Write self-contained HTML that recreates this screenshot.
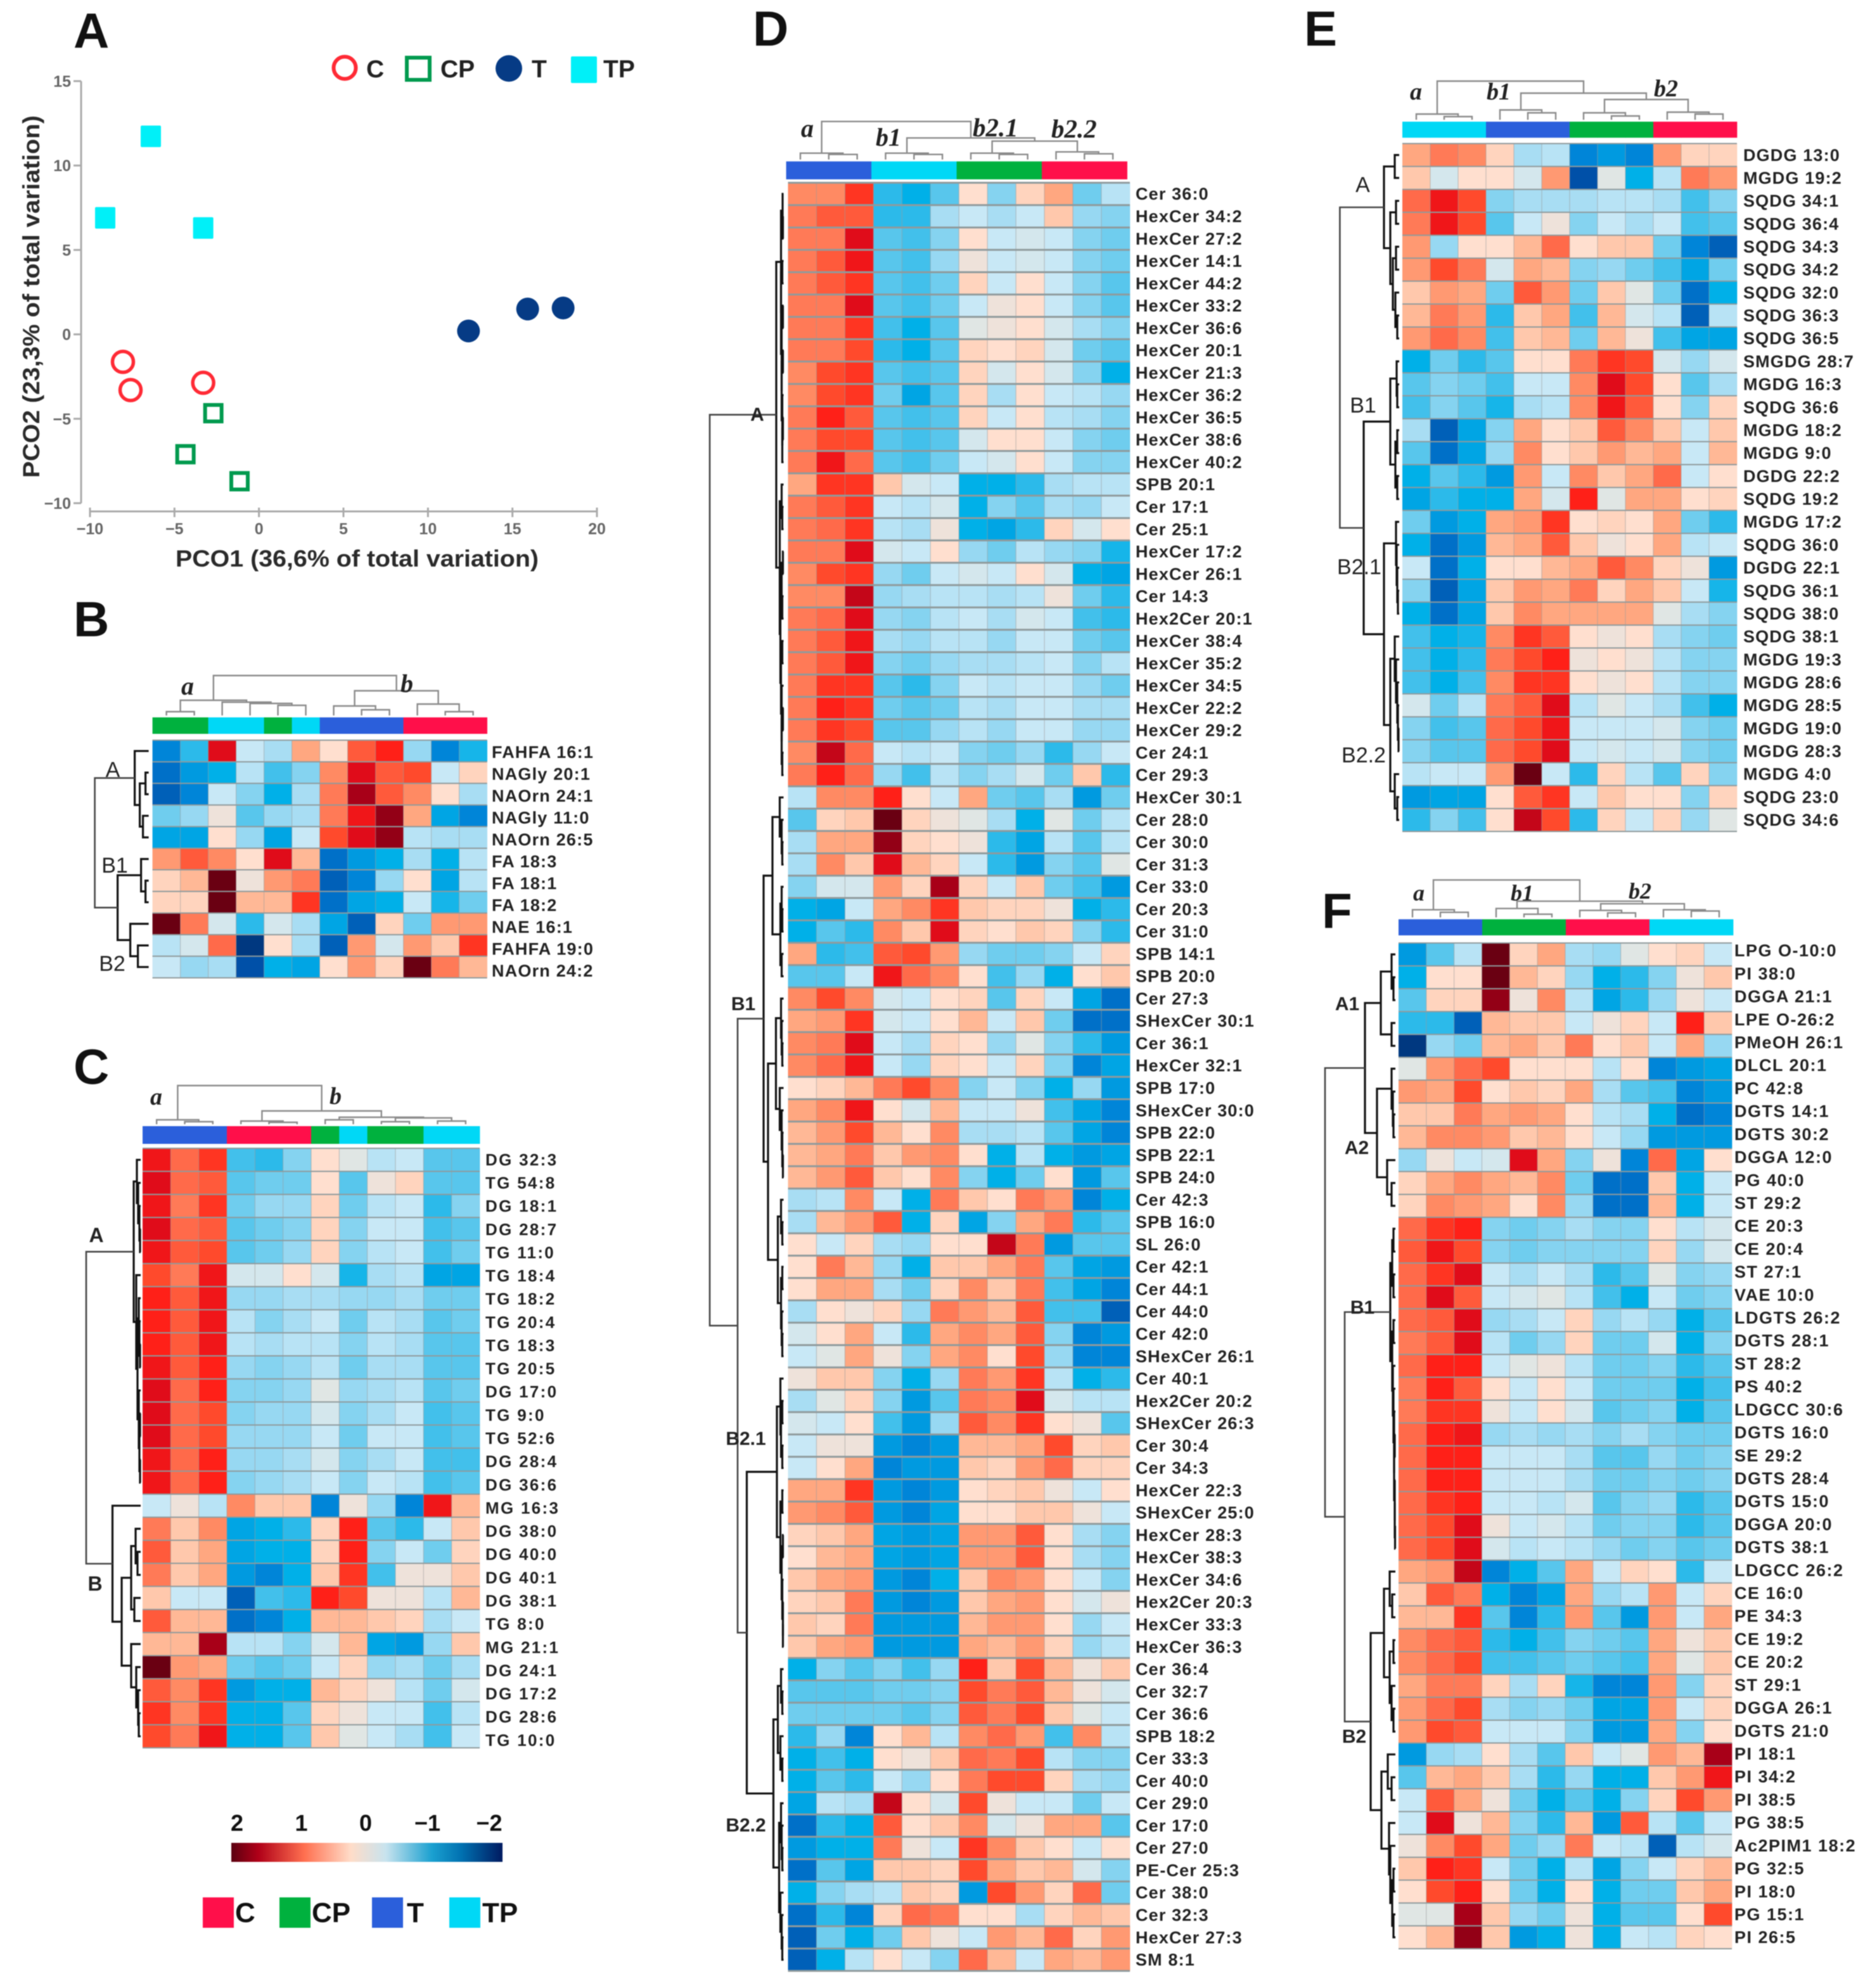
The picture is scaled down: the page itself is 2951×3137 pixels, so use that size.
<!DOCTYPE html>
<html lang="en">
<head>
<meta charset="utf-8">
<title>Lipidomics PCoA and clustered heatmaps</title>
<style>
html,body{margin:0;padding:0;background:#fff;}
#figure{display:block;width:2951px;height:3137px;filter:blur(0.9px);font-family:"Liberation Sans",sans-serif;}
</style>
</head>
<body>
<svg id="figure" xmlns="http://www.w3.org/2000/svg" width="2951" height="3137" viewBox="0 0 2951 3137">
<rect x="0" y="0" width="2951" height="3137" fill="#fff"/>
<g font-weight="bold" font-size="78" fill="#111">
<text x="116" y="75">A</text>
<text x="116" y="1004">B</text>
<text x="116" y="1710">C</text>
<text x="1188" y="72">D</text>
<text x="2058" y="72">E</text>
<text x="2086" y="1464">F</text>
</g>
<g id="scatter"></g>
<g id="heatmaps"></g>
<g id="legend"></g>
</svg>
<script>
/* ---------- Panel A data ---------- */
const pcoXTicks = [-10,-5,0,5,10,15,20];
const pcoYTicks = [-10,-5,0,5,10,15];
const pcoC  = [[-8.05,-1.63],[-7.6,-3.3],[-3.3,-2.87]];
const pcoCP = [[-2.7,-4.67],[-4.35,-7.1],[-1.15,-8.7]];
const pcoT  = [[12.4,0.2],[15.9,1.5],[18,1.56]];
const pcoTP = [[-6.4,11.73],[-9.1,6.9],[-3.3,6.3]];

/* ---------- Shared colour scale: z-score times ten ---------- */
const scaleValues = [-20,-19,-17,-16,-15,-13,-11,-9,-7,-5,-3,-1,0,1,3,5,7,9,11,13,15,17,20];
const scaleColors = ['#003880','#0050a8','#0070c8','#0085d8','#009ae0','#00b0e8','#2cbaea','#58c6ec','#85d3f0','#a8ddf3','#c8e8f6','#e0e6e4','#eee2da','#ffdfcf','#ffc8ac','#ffa780','#ff8a63','#ff6a4a','#ff4a2c','#ff2018','#e00c1a','#a80018','#6a0012'];
const groupColors = {C:'#ff0f4a',CP:'#00b13e',T:'#2b5fdb',TP:'#00d8f6'};

/* ---------- Panel B data ---------- */
const bLabels = ['FAHFA 16:1','NAGly 20:1','NAOrn 24:1','NAGly 11:0','NAOrn 26:5','FA 18:3','FA 18:1','FA 18:2','NAE 16:1','FAHFA 19:0','NAOrn 24:2'];
const bGroups = ['CP','CP','TP','TP','CP','TP','T','T','T','C','C','C'];
const bValues = [
[-16,-11,15,-3,-5,5,1,10,13,-6,-16,-12],
[-17,-15,-13,-4,-10,-7,7,15,10,11,-3,2],
[-18,-16,-3,-7,-13,-5,8,17,10,7,1,-5],
[-8,-6,0,-9,-6,-5,8,14,18,5,-14,-16],
[-14,-14,1,-6,-14,-3,11,15,18,-4,-5,-5],
[6,10,7,1,15,4,-17,-15,-13,-5,-13,-4],
[2,4,20,0,6,8,-18,-16,-6,1,-14,-4],
[2,2,20,4,4,12,-17,-14,-13,-3,-12,-8],
[20,8,-2,-11,-2,-5,-14,-18,2,-8,6,6],
[-4,-2,9,-20,1,-5,-18,6,-2,6,3,12],
[-3,-6,-5,-19,-13,-14,1,6,2,20,8,4]];
const bColTree = [63,[24,[6,0,1],[21,2,[19,3,[16,4,5]]]],[39,[15,6,[9,7,8]],[18,9,[6,10,11]]]];
const bRowTree = [85,[22,0,[14,[5,1,2],[9,3,4]]],[49,[12,5,[5,6,7]],[29,8,[17,9,10]]]];

/* ---------- Panel C data ---------- */
const cLabels = ['DG 32:3','TG 54:8','DG 18:1','DG 28:7','TG 11:0','TG 18:4','TG 18:2','TG 20:4','TG 18:3','TG 20:5','DG 17:0','TG 9:0','TG 52:6','DG 28:4','DG 36:6','MG 16:3','DG 38:0','DG 40:0','DG 40:1','DG 38:1','TG 8:0','MG 21:1','DG 24:1','DG 17:2','DG 28:6','TG 10:0'];
const cGroups = ['T','T','T','C','C','C','CP','TP','CP','CP','TP','TP'];
const cValues = [
[14,9,12,-10,-11,-7,1,-1,-4,-3,-9,-9],
[15,9,10,-9,-8,-8,1,-9,0,2,-9,-9],
[14,8,12,-8,-6,-6,2,-8,-4,-3,-11,-7],
[15,9,10,-9,-8,-7,2,-7,-3,-3,-10,-9],
[14,10,11,-9,-8,-6,2,-7,-4,-3,-10,-8],
[11,8,14,-2,-2,1,-2,-12,-5,-4,-14,-14],
[13,10,14,-6,-6,-5,-5,-6,-6,-5,-8,-8],
[13,10,14,-4,-7,-5,-3,-8,-4,-5,-9,-8],
[13,10,14,-4,-5,-4,-4,-7,-4,-5,-9,-9],
[14,10,13,-6,-7,-6,-4,-8,-5,-5,-9,-9],
[15,9,13,-7,-7,-6,-1,-6,-5,-4,-9,-8],
[15,9,11,-7,-6,-6,-2,-7,-5,-3,-10,-9],
[15,9,11,-6,-6,-6,-3,-8,-3,-3,-10,-9],
[14,9,13,-6,-6,-5,-2,-7,-5,-3,-10,-10],
[14,9,13,-7,-6,-5,-3,-7,-3,-4,-10,-9],
[-3,0,-4,7,3,3,-16,0,-6,-16,14,4],
[8,3,7,-14,-13,-11,2,13,-9,-11,-3,3],
[10,3,5,-14,-13,-13,2,13,-7,-3,-8,2],
[8,3,5,-15,-16,-13,3,12,-10,0,0,3],
[3,-3,-3,-18,-10,-11,13,11,0,0,-4,4],
[10,4,4,-17,-16,-13,4,4,3,2,-5,-3],
[4,4,17,-4,-4,-7,-2,4,-14,-15,-6,3],
[20,6,5,-8,-9,-8,-3,2,-6,-5,-8,-5],
[10,7,12,-15,-13,-13,4,2,0,-4,-8,-2],
[12,7,12,-13,-13,-9,2,0,-3,-3,-10,-4],
[11,8,14,-13,-13,-9,3,-1,-3,-5,-10,-3]];
const cColTree = [61,[7,0,[4,1,2]],[21,[5,3,[3,4,5]],[11,[7,6,7],[10,[4,8,9],[5,10,11]]]]];
const cRowTree = [86,[11,[6,0,[4,1,[2,2,[1,3,4]]]],[7,5,[5,[3,6,[2,7,[1,8,9]]],[3,10,[2,[1,11,12],[1,13,14]]]]]],[44.5,15,[30,[15,[8,16,[5,17,18]],[10,19,20]],[15,21,[7,22,[4,23,[3,24,25]]]]]]];

/* ---------- Panel D data ---------- */
const dLabels = ['Cer 36:0','HexCer 34:2','HexCer 27:2','HexCer 14:1','HexCer 44:2','HexCer 33:2','HexCer 36:6','HexCer 20:1','HexCer 21:3','HexCer 36:2','HexCer 36:5','HexCer 38:6','HexCer 40:2','SPB 20:1','Cer 17:1','Cer 25:1','HexCer 17:2','HexCer 26:1','Cer 14:3','Hex2Cer 20:1','HexCer 38:4','HexCer 35:2','HexCer 34:5','HexCer 22:2','HexCer 29:2','Cer 24:1','Cer 29:3','HexCer 30:1','Cer 28:0','Cer 30:0','Cer 31:3','Cer 33:0','Cer 20:3','Cer 31:0','SPB 14:1','SPB 20:0','Cer 27:3','SHexCer 30:1','Cer 36:1','HexCer 32:1','SPB 17:0','SHexCer 30:0','SPB 22:0','SPB 22:1','SPB 24:0','Cer 42:3','SPB 16:0','SL 26:0','Cer 42:1','Cer 44:1','Cer 44:0','Cer 42:0','SHexCer 26:1','Cer 40:1','Hex2Cer 20:2','SHexCer 26:3','Cer 30:4','Cer 34:3','HexCer 22:3','SHexCer 25:0','HexCer 28:3','HexCer 38:3','HexCer 34:6','Hex2Cer 20:3','HexCer 33:3','HexCer 36:3','Cer 36:4','Cer 32:7','Cer 36:6','SPB 18:2','Cer 33:3','Cer 40:0','Cer 29:0','Cer 17:0','Cer 27:0','PE-Cer 25:3','Cer 38:0','Cer 32:3','HexCer 27:3','SM 8:1'];
const dGroups = ['T','T','T','TP','TP','TP','CP','CP','CP','C','C','C'];
const dValues = [
[7,7,12,-11,-13,-9,1,-7,2,5,-8,-4],
[8,10,10,-11,-11,-5,-3,-5,-3,3,-6,-7],
[8,8,15,-9,-10,-7,1,-3,-2,-3,-7,-8],
[8,10,14,-9,-10,-6,0,-3,-2,-3,-7,-8],
[8,10,12,-9,-10,-8,2,-3,1,-3,-7,-9],
[8,8,15,-9,-10,-8,-3,0,1,-3,-7,-9],
[8,8,12,-10,-13,-9,-1,0,1,-2,-5,-7],
[8,8,11,-11,-13,-9,2,1,2,-2,-8,-9],
[7,11,12,-9,-10,-9,2,-2,1,-2,-7,-13],
[7,11,12,-8,-14,-9,2,-5,1,-3,-4,-6],
[8,13,10,-9,-10,-9,2,-3,1,-4,-5,-7],
[8,11,11,-9,-10,-9,-2,1,1,-3,-7,-8],
[8,14,9,-9,-10,-8,-3,-2,1,-3,-7,-7],
[5,12,12,3,-2,-3,-13,-13,-11,-5,-4,-4],
[8,10,12,-3,-4,-2,-13,-7,-9,-5,-6,-3],
[8,9,12,-4,-5,0,-13,-14,-11,2,-2,1],
[8,8,15,-2,-3,1,-6,-8,-4,-6,-7,-12],
[7,11,12,-6,-8,-3,-2,-3,1,-2,-13,-14],
[7,7,16,-6,-5,-4,-4,-5,-4,0,-8,-11],
[8,9,15,-6,-7,-4,-3,-5,-2,-3,-10,-11],
[8,10,14,-5,-6,-4,-4,-6,-3,-3,-8,-9],
[8,10,14,-7,-8,-6,-5,-5,-4,-3,-7,-4],
[8,12,12,-9,-11,-7,-3,-4,-3,-3,-6,-8],
[8,13,12,-8,-9,-8,-4,-5,-3,-3,-5,-5],
[8,12,11,-9,-9,-6,-4,-6,-3,-3,-6,-6],
[7,16,9,-3,-4,-3,-7,-8,-6,-11,-6,-3],
[8,13,9,-6,-10,-4,-7,-5,-2,-8,3,-11],
[-4,7,7,13,1,-3,5,-8,-9,-5,-15,-8],
[-9,2,3,20,2,0,-1,-5,-13,-1,-8,-4],
[-5,5,5,18,2,1,0,-11,-14,-4,-9,-4],
[-5,7,3,15,4,2,-3,-11,-15,-7,-9,-1],
[-7,-2,-2,6,2,17,2,-3,3,-8,-10,-15],
[-13,-14,-3,5,7,12,3,2,2,0,-13,-11],
[-13,-9,-11,7,3,15,2,1,3,2,-7,-11],
[5,-11,-10,10,11,6,-6,-8,-8,-7,-3,2],
[-9,-9,-3,14,9,7,1,-10,-6,-13,1,3],
[7,11,7,-2,-3,1,2,-9,2,-3,-14,-17],
[5,6,12,-2,-3,1,4,-3,3,-8,-17,-17],
[7,8,15,-3,-5,2,1,-6,-1,-7,-11,-15],
[7,9,14,-3,-6,2,1,-3,2,-7,-16,-14],
[1,2,4,8,11,7,-7,-3,-7,-13,-6,-15],
[5,7,14,1,-2,4,-3,-3,0,-10,-14,-16],
[4,6,11,4,1,7,-5,-5,-4,-9,-14,-16],
[4,5,8,3,6,7,1,-13,-4,-13,-15,-14],
[4,6,10,3,1,7,-7,-13,-8,1,-15,-9],
[-5,-4,7,-3,-13,8,3,1,8,6,-16,-13],
[-5,4,6,10,-13,2,-14,-7,5,8,-11,-9],
[1,-3,2,-5,-6,1,1,16,8,-15,-9,-9],
[1,8,4,-6,-13,3,3,5,8,-9,-14,-15],
[1,5,5,-5,-8,2,7,3,8,-10,-14,-16],
[-5,1,0,2,-6,8,6,4,10,-10,-10,-18],
[-2,1,5,-3,-11,5,7,5,10,-7,-16,-15],
[-3,-1,5,0,-7,5,7,1,11,-6,-16,-16],
[0,3,3,-7,-13,-6,8,6,12,-4,-13,-11],
[-5,-1,2,-7,-15,-9,8,7,15,-2,-4,-4],
[-2,-3,1,-10,-15,-6,10,7,12,1,0,-9],
[-3,0,0,-15,-16,-15,4,4,5,11,2,3],
[-3,1,5,-16,-15,-15,3,2,6,9,2,2],
[5,5,12,-15,-16,-15,1,2,3,0,-3,1],
[6,7,10,-15,-16,-14,1,1,3,3,0,-3],
[2,3,5,-14,-15,-14,6,6,10,1,-5,-7],
[1,4,5,-14,-15,-14,6,6,10,1,-5,-7],
[3,5,6,-15,-16,-13,3,7,6,1,-3,-7],
[2,3,8,-15,-16,-15,3,5,6,1,-2,0],
[3,2,8,-15,-15,-15,4,6,6,1,-6,-3],
[3,5,6,-15,-15,-15,5,4,6,2,-6,-4],
[-13,-7,-9,-7,-10,-6,13,3,11,4,0,3],
[-9,-9,-9,-8,-8,-7,11,8,10,4,0,-2],
[-8,-8,-8,-8,-9,-7,10,8,11,3,-1,-3],
[-11,-6,-16,1,4,-4,7,9,6,-10,7,-4],
[-13,-10,-13,1,0,3,9,8,11,-4,-7,-7],
[-13,-9,-11,-3,-6,1,8,11,11,2,-5,-6],
[-14,-4,-5,16,1,-2,11,0,-3,-3,-8,-3],
[-17,-11,-13,10,1,3,7,-2,0,5,5,-9],
[-15,-13,-13,8,0,-3,12,7,3,1,-3,1],
[-17,-9,-14,3,3,2,11,5,3,4,-2,-7],
[-13,-7,-5,-4,3,2,-15,11,6,2,9,-8],
[-17,-11,-16,2,9,8,1,1,-5,2,4,3],
[-18,-8,-13,-8,3,0,-3,6,4,9,2,6],
[-18,-13,-4,1,-3,-7,9,4,-3,5,4,6]];
const dColTree = [60,[10,0,[8,1,2]],[34,[10,3,[8,4,5]],[29,[10,6,[8,7,8]],[12,9,[9,10,11]]]]];
const dRowTree = [116.5,
 [11.5,
  [4,[1.5,0,[1,1,2]],[4,[2,3,4],[3,[1,5,6],[3,[1,7,8],[2,9,[2,[1,10,11],12]]]]]],
  [6,[3,13,[2,14,15]],[5,[3,[1,16,17],[2,18,19]],[4,[2,20,21],[3,22,[3,[1,23,24],[2,25,26]]]]]]],
 [72.5,
  [31.5,
   [17.5,[6,27,[3,28,[2,29,30]]],[5,[3,31,[2,32,33]],[3,34,35]]],
   [24.5,[12,[4,36,[3,37,[2,38,39]]],[6,40,[3,41,[2,42,[1,43,44]]]]],[9,[4,45,[2,46,47]],[4,[2,48,49],[3,50,[2,51,52]]]]]],
  [58,
   [10.5,[5,53,[4,[2,54,55],[2,56,57]]],[5,[2,58,59],[3,[1,60,61],[2,62,[1,63,[1,64,65]]]]]],
   [16,[9,[4,66,[2,67,68]],[5,69,[2,70,71]]],[7,[4,72,[3,73,[2,74,75]]],[5,76,[3,77,[2,78,79]]]]]]]];

/* ---------- Panel E data ---------- */
const eLabels = ['DGDG 13:0','MGDG 19:2','SQDG 34:1','SQDG 36:4','SQDG 34:3','SQDG 34:2','SQDG 32:0','SQDG 36:3','SQDG 36:5','SMGDG 28:7','MGDG 16:3','SQDG 36:6','MGDG 18:2','MGDG 9:0','DGDG 22:2','SQDG 19:2','MGDG 17:2','SQDG 36:0','DGDG 22:1','SQDG 36:1','SQDG 38:0','SQDG 38:1','MGDG 19:3','MGDG 28:6','MGDG 28:5','MGDG 19:0','MGDG 28:3','MGDG 4:0','SQDG 23:0','SQDG 34:6'];
const eGroups = ['TP','TP','TP','T','T','T','CP','CP','CP','C','C','C'];
const eValues = [
[5,8,7,2,-5,-4,-16,-15,-16,6,2,2],
[3,-2,1,1,-2,6,-19,-1,-13,-4,8,6],
[9,14,11,-7,-5,-5,-5,-4,-4,-5,-10,-7],
[8,14,11,-9,-3,0,-7,-3,-5,-3,-10,-9],
[6,-6,1,1,4,9,1,3,3,-8,-16,-18],
[6,11,8,-2,5,4,-7,-6,-8,-10,-14,-8],
[3,6,5,-8,10,6,-8,3,-1,-8,-17,-13],
[4,8,6,-11,3,5,-10,4,-2,-4,-18,-4],
[6,9,7,-10,3,4,-8,4,0,-10,-14,-14],
[-13,-8,-11,-9,1,1,8,12,11,-2,-6,-2],
[-9,-7,-8,-10,-3,-3,7,15,11,1,-9,-5],
[-10,-7,-9,-12,-5,-4,7,14,10,1,-7,2],
[-5,-18,-14,-7,5,1,3,10,7,3,-3,3],
[-9,-17,-14,-6,7,1,3,6,4,5,-3,4],
[-13,-9,-11,-15,6,-3,7,3,5,9,-3,1],
[-14,-11,-13,-13,5,-2,13,-1,5,5,1,2],
[-8,-15,-13,5,6,12,1,2,1,5,-8,-11],
[-13,-17,-15,4,5,10,3,0,1,5,-4,-3],
[-3,-17,-13,1,1,4,5,10,7,2,0,-15],
[-7,-18,-14,3,6,5,8,2,5,3,-3,-12],
[-13,-17,-14,3,7,5,5,5,5,-1,-5,-7],
[-10,-13,-12,7,12,10,1,0,1,-5,-7,-8],
[-10,-13,-11,8,11,13,0,1,0,-4,-7,-7],
[-10,-13,-10,7,12,12,1,0,1,-4,-7,-7],
[-2,-8,-4,8,10,15,-4,-1,-3,-5,-10,-13],
[-7,-10,-9,9,11,14,-3,-3,-3,-2,-7,-8],
[-7,-9,-9,9,11,15,-3,-2,-3,-2,-7,-8],
[-4,-3,-3,6,20,-3,-11,2,-4,-9,2,-7],
[-15,-14,-14,1,10,12,-3,3,1,1,-7,2],
[-11,-7,-10,1,16,11,-11,2,-3,2,-6,-1]];
const eColTree = [61,[9,0,[5,1,2]],[42,[15.5,3,[11,4,5]],[32,[11,6,[6,7,8]],[12,9,[9,10,11]]]]];
const eRowTree = [93.6,
 [24,[7,0,1],[14,[5,2,3],[10,[5,4,5],[6,6,[3,7,8]]]]],
 [56,
  [14,[4,9,[3,10,11]],[6,[3,12,13],[3,14,15]]],
  [24,[5,16,[4,17,[3,18,[2,19,20]]]],[14,[7,21,[5,22,[3,23,[2,24,[1,25,26]]]]],[7,27,[3,28,29]]]]]];

/* ---------- Panel F data ---------- */
const fLabels = ['LPG O-10:0','PI 38:0','DGGA 21:1','LPE O-26:2','PMeOH 26:1','DLCL 20:1','PC 42:8','DGTS 14:1','DGTS 30:2','DGGA 12:0','PG 40:0','ST 29:2','CE 20:3','CE 20:4','ST 27:1','VAE 10:0','LDGTS 26:2','DGTS 28:1','ST 28:2','PS 40:2','LDGCC 30:6','DGTS 16:0','SE 29:2','DGTS 28:4','DGTS 15:0','DGGA 20:0','DGTS 38:1','LDGCC 26:2','CE 16:0','PE 34:3','CE 19:2','CE 20:2','ST 29:1','DGGA 26:1','DGTS 21:0','PI 18:1','PI 34:2','PI 38:5','PG 38:5','Ac2PIM1 18:2','PG 32:5','PI 18:0','PG 15:1','PI 26:5'];
const fGroups = ['T','T','T','CP','CP','CP','C','C','C','TP','TP','TP'];
const fValues = [
[-15,-9,-4,20,2,5,-5,-6,-1,1,2,-3],
[-13,1,1,20,4,2,-6,-13,-11,-7,0,3],
[-9,2,2,18,0,7,-4,-14,-11,-6,0,-3],
[-11,-11,-18,4,3,3,-3,0,2,-3,13,3],
[-20,-6,-8,4,5,3,8,1,3,-3,5,-6],
[-1,6,9,11,1,1,1,-4,1,-16,-15,-14],
[6,5,11,1,3,2,5,-5,-9,-10,-16,-15],
[3,3,8,5,6,5,1,-4,-5,-13,-17,-16],
[4,7,7,6,3,4,1,-3,-6,-15,-15,-15],
[-6,0,-3,-2,15,5,-7,0,-16,9,-14,1],
[2,5,7,5,4,7,-8,-17,-17,3,-13,-3],
[2,7,6,5,1,7,-6,-17,-17,4,-13,-3],
[9,12,13,-7,-8,-7,-5,-7,-7,1,-4,-2],
[10,14,11,-7,-8,-7,-7,-7,-7,2,-6,-2],
[9,12,15,-3,-5,-3,-5,-11,-9,-1,-7,-6],
[9,15,10,-3,-2,-1,-4,-10,-13,-3,-8,-7],
[9,10,15,-6,-5,-3,2,-6,-4,-6,-13,-9],
[8,10,15,-4,-8,-6,2,-8,-8,-2,-13,-7],
[9,13,13,-3,-1,0,-4,-8,-8,-7,-11,-9],
[8,13,10,1,-3,1,-3,-8,-8,-8,-13,-10],
[8,12,12,0,-3,1,-2,-9,-8,-7,-13,-9],
[9,13,14,-6,-5,-6,-5,-7,-5,-7,-8,-8],
[9,13,13,-3,-3,-3,-5,-9,-9,-6,-8,-7],
[9,13,13,-3,-3,-3,-5,-8,-8,-7,-8,-7],
[9,12,13,-3,-3,-4,-2,-9,-7,-6,-11,-9],
[9,11,15,0,-3,-2,-4,-8,-7,-7,-11,-9],
[9,11,15,-2,-4,-3,-4,-6,-8,-7,-9,-8],
[5,6,16,-16,-13,-9,5,-3,2,1,-11,-3],
[3,10,8,-13,-16,-14,5,-6,-4,6,-3,2],
[4,4,12,-9,-16,-11,6,-9,-15,6,-3,5],
[7,9,10,-11,-13,-10,-7,-8,-9,5,0,3],
[7,9,11,-10,-10,-9,-8,-9,-10,5,-1,3],
[5,8,8,2,-5,2,-12,-16,-16,6,-7,2],
[6,9,11,-5,-7,-6,-8,-14,-14,6,-3,2],
[6,11,10,-3,-3,-3,-7,-15,-15,5,-7,1],
[-15,-6,-5,1,-5,-9,3,-3,-1,6,4,17],
[-9,4,5,3,-5,-11,-6,-13,-13,3,6,14],
[-3,10,5,0,-8,-13,-9,-13,-7,2,11,6],
[-3,15,0,4,-7,-11,4,-15,10,-4,-9,-3],
[0,7,11,5,-8,-6,8,-3,-4,-18,-4,-2],
[3,13,12,-3,-8,-13,-4,-14,-7,-3,2,4],
[1,11,13,1,-8,-13,1,-13,-8,-8,3,5],
[-1,-1,17,3,-6,-8,0,-13,-9,-9,1,11],
[1,4,18,3,-15,-13,0,-13,-3,-4,2,1]];
const fColTree = [59,[12,0,[8,1,2]],[25.5,[14,3,[5,4,5]],[21.5,[11,6,[7,7,8]],[12,9,[10,10,11]]]]];
const fRowTree = [111,
 [48,
  [23,[6,0,[3,1,2]],[6,3,4]],
  [29,[6,5,[4,6,[3,7,8]]],[13,9,[6,10,11]]]],
 [80,
  [8,[5,[3,12,13],[3,14,15]],[5,[3,16,17],[4,18,[3,19,[2,20,[2,[1,21,22],[1,23,[1,24,[0.5,25,26]]]]]]]]],
  [39,[18,[9,27,[5,28,29]],[9,[3,30,31],[6,32,[3,33,34]]]],[22,[12,35,[6,36,37]],[10,38,[8,39,[5,[3,40,41],[3,42,43]]]]]]]];

/* ---------- Legend data ---------- */
const colorbarTicks = [2,1,0,-1,-2];
const legendGroups = ['C','CP','T','TP'];

/* ---------- Helpers ---------- */
const SVGNS = 'http://www.w3.org/2000/svg';
function make(tag, attrs, parent) {
  const el = document.createElementNS(SVGNS, tag);
  for (const k in attrs) el.setAttribute(k, attrs[k]);
  parent.appendChild(el);
  return el;
}
function hexToRgb(h) { return [parseInt(h.slice(1,3),16),parseInt(h.slice(3,5),16),parseInt(h.slice(5,7),16)]; }
function colorOf(v) {
  if (v <= scaleValues[0]) return scaleColors[0];
  for (let i = 1; i < scaleValues.length; i++) {
    if (v <= scaleValues[i]) {
      const t = (v - scaleValues[i-1]) / (scaleValues[i] - scaleValues[i-1]);
      const a = hexToRgb(scaleColors[i-1]), b = hexToRgb(scaleColors[i]);
      return 'rgb(' + a.map((c,j) => Math.round(c + (b[j]-c)*t)).join(',') + ')';
    }
  }
  return scaleColors[scaleColors.length-1];
}
function fmt(v) { return String(v).replace('-', '\u2212'); }

/* ---------- Panel A ---------- */
(function () {
  const g = document.getElementById('scatter');
  const sx = v => 142 + (v + 10) * 800 / 30;
  const sy = v => 128 + (15 - v) * 666 / 25;
  const axisX = make('line',{x1:sx(-10),x2:sx(20),y1:807,y2:807,stroke:'#aaa','stroke-width':3},g);
  
  
  const axisY = make('line',{x1:128,x2:128,y1:sy(15),y2:sy(-10),stroke:'#aaa','stroke-width':3},g);
  
  
  pcoXTicks.forEach(t => {
    const tick = make('line',{x1:sx(t),x2:sx(t),y1:801,y2:816,stroke:'#aaa','stroke-width':3},g);
    
    
    const lab = make('text',{x:sx(t),y:843,'text-anchor':'middle','font-size':25,'font-weight':'bold',fill:'#666'},g);
    lab.textContent = fmt(t);
    
    
  });
  pcoYTicks.forEach(t => {
    const tick = make('line',{x1:116,x2:128,y1:sy(t),y2:sy(t),stroke:'#aaa','stroke-width':3},g);
    
    
    const lab = make('text',{x:112,y:sy(t)+9,'text-anchor':'end','font-size':25,'font-weight':'bold',fill:'#666'},g);
    lab.textContent = fmt(t);
    
    
  });
  const xt = make('text',{x:277,y:894,'font-size':37,'font-weight':'bold',fill:'#2a2a2a',textLength:573,lengthAdjust:'spacingAndGlyphs'},g);
  xt.textContent = 'PCO1 (36,6% of total variation)';
  
  
  const yt = make('text',{x:0,y:0,transform:'translate(62,754) rotate(-90)','font-size':37,'font-weight':'bold',fill:'#2a2a2a',textLength:572,lengthAdjust:'spacingAndGlyphs'},g);
  yt.textContent = 'PCO2 (23,3% of total variation)';
  
  
  pcoTP.forEach(p => {
    const m = make('rect',{x:sx(p[0])-16,y:sy(p[1])-17,width:32,height:34,rx:2,fill:'#00f0f8'},g);
    
    
  });
  pcoT.forEach(p => {
    const m = make('ellipse',{cx:sx(p[0]),cy:sy(p[1]),rx:18,ry:18,fill:'#063b85'},g);
    
    
  });
  pcoC.forEach(p => {
    const m = make('circle',{cx:sx(p[0]),cy:sy(p[1]),r:16.5,fill:'none',stroke:'#ff2a35','stroke-width':5.5},g);
    
    
  });
  pcoCP.forEach(p => {
    const m = make('rect',{x:sx(p[0])-13,y:sy(p[1])-13,width:26,height:26,fill:'none',stroke:'#009a4e','stroke-width':6},g);
    
    
  });
  /* scatter legend */
  const lc = make('circle',{cx:544,cy:107,r:17.5,fill:'none',stroke:'#ff2a35','stroke-width':6},g);
  
  
  const lcp = make('rect',{x:642,y:91,width:36,height:35,fill:'none',stroke:'#009a4e','stroke-width':6},g);
  
  
  const lt = make('ellipse',{cx:803,cy:108,rx:21,ry:21,fill:'#063b85'},g);
  
  
  const ltp = make('rect',{x:901,y:89,width:41,height:42,rx:2,fill:'#00f0f8'},g);
  
  
  [['C',578],['CP',695],['T',839],['TP',952]].forEach(e => {
    const t = make('text',{x:e[1],y:122,'font-size':39,'font-weight':'bold',fill:'#222'},g);
    t.textContent = e[0];
    
    
  });
})();

/* ---------- Heatmaps ---------- */
function drawColTree(g, node, colPos, base, scale) {
  if (typeof node === 'number') return {p: colPos(node), y: base};
  const a = drawColTree(g, node[1], colPos, base, scale);
  const b = drawColTree(g, node[2], colPos, base, scale);
  const y = base - node[0] * scale;
  const path = make('path',{d:'M'+a.p+' '+a.y+'V'+y+'H'+b.p+'V'+b.y,fill:'none',stroke:'#8a8a8a','stroke-width':2.4},g);
  
  
  return {p:(a.p+b.p)/2, y:y};
}
function drawRowTree(g, node, rowPos, base) {
  if (typeof node === 'number') return {p: rowPos(node), x: base};
  const a = drawRowTree(g, node[1], rowPos, base);
  const b = drawRowTree(g, node[2], rowPos, base);
  const x = base - node[0];
  const path = make('path',{d:'M'+a.x+' '+a.p+'H'+x+'V'+b.p+'H'+b.x,fill:'none',stroke:node[0]>60?'#444':'#111','stroke-width':node[0]>60?2.6:3.2},g);
  
  
  return {p:(a.p+b.p)/2, x:x};
}
function drawHeatmap(o) {
  const root = make('g',{},document.getElementById('heatmaps'));
  
  
  const nCols = o.groups.length, nRows = o.values.length;
  const cw = o.w / nCols, rh = o.h / nRows;
  const colX = i => o.x + i * cw;
  const rowY = i => o.y + i * rh;
  const first = o.labelFirst === undefined ? o.y + rh/2 : o.labelFirst;
  const last = o.labelLast === undefined ? o.y + o.h - rh/2 : o.labelLast;
  const labelY = i => first + i * (last - first) / (nRows - 1);
  const barCw = o.barW / nCols;
  o.groups.forEach((name,i) => {
    const c = make('rect',{x:o.barX+i*barCw,y:o.barY,width:barCw+0.4,height:o.barH,fill:groupColors[name]},root);
    
    
  });
  for (let r = 0; r < nRows; r++) {
    for (let c = 0; c < nCols; c++) {
      const cell = make('rect',{x:colX(c),y:rowY(r),width:cw+0.4,height:rh+0.4,fill:colorOf(o.values[r][c])},root);
      
      
    }
    const lab = make('text',{x:o.labelX,y:labelY(r)+o.fs*0.34,'font-size':o.fs,'font-weight':'bold','letter-spacing':o.ls,fill:'#222'},root);
    lab.textContent = o.labels[r];
    
    
  }
  for (let c = 1; c < nCols; c++) {
    const l = make('line',{x1:colX(c),x2:colX(c),y1:o.y,y2:o.y+o.h,stroke:'#9a9a9a','stroke-width':1.2,'stroke-opacity':0.55},root);
    
    
  }
  for (let r = 0; r <= nRows; r++) {
    const l = make('line',{x1:o.x,x2:o.x+o.w,y1:rowY(r),y2:rowY(r),stroke:'#8f9a9c','stroke-width':o.gridW},root);
    
    
  }
  drawColTree(root, o.colTree, i => o.barX + (i+0.5)*barCw, o.barY-3, 1);
  drawRowTree(root, o.rowTree, i => rowY(i)+rh/2, o.x-o.rowGap);
  o.tags.forEach(t => {
    const el = make('text',{x:t[1],y:t[2],'font-family':'"Liberation Serif",serif','font-style':'italic','font-weight':'bold','font-size':t[3],fill:'#222'},root);
    el.textContent = t[0];
    
    
  });
  o.clusters.forEach(t => {
    const el = make('text',{x:t[1],y:t[2],'font-size':t[3],'font-weight':o.clusterWeight,'text-anchor':'middle',fill:'#222'},root);
    el.textContent = t[0];
    
    
  });
}
drawHeatmap({name:'heatmap-b',x:240.6,y:1168,w:528,h:375,barX:240.6,barY:1132,barW:528,barH:26,rowGap:6,gridW:2,labelX:776,labelFirst:1187,labelLast:1532,fs:27,ls:1.2,labels:bLabels,groups:bGroups,values:bValues,colTree:bColTree,rowTree:bRowTree,clusterWeight:'normal',
  tags:[['a',286,1096,40],['b',632,1092,40]],
  clusters:[['A',178,1226,34],['B1',181,1377,34],['B2',177,1532,34]]});
drawHeatmap({name:'heatmap-c',x:225,y:1812,w:532,h:946,barX:225,barY:1777,barW:532,barH:28,rowGap:3,gridW:2,labelX:766,labelFirst:1830,labelLast:2746,fs:26,ls:2.3,labels:cLabels,groups:cGroups,values:cValues,colTree:cColTree,rowTree:cRowTree,clusterWeight:'bold',
  tags:[['a',237,1743,38],['b',520,1742,38]],
  clusters:[['A',152,1960,32],['B',150,2510,32]]});
drawHeatmap({name:'heatmap-d',x:1243.5,y:288.4,w:539.5,h:2821.6,barX:1240.6,barY:254.7,barW:538,barH:28.3,rowGap:7,gridW:3,labelX:1792,fs:27,ls:1.15,labels:dLabels,groups:dGroups,values:dValues,colTree:dColTree,rowTree:dRowTree,clusterWeight:'bold',
  tags:[['a',1264,216,40],['b1',1382,230,40],['b2.1',1535,215,41],['b2.2',1659,217,41]],
  clusters:[['A',1195,664,30],['B1',1173,1594,30],['B2.1',1177,2280,30],['B2.2',1177,2890,30]]});
drawHeatmap({name:'heatmap-e',x:2213,y:226.5,w:528,h:1085.5,barX:2213,barY:192,barW:528,barH:25.3,rowGap:5,gridW:2,labelX:2751,fs:27,ls:1.15,labels:eLabels,groups:eGroups,values:eValues,colTree:eColTree,rowTree:eRowTree,clusterWeight:'normal',
  tags:[['a',2225,157,38],['b1',2346,157,38],['b2',2610,152,38]],
  clusters:[['A',2150.5,303,34],['B1',2151,651,34],['B2.1',2145,906,34],['B2.2',2152,1203,34]]});
drawHeatmap({name:'heatmap-f',x:2207,y:1488,w:526,h:1587,barX:2207,barY:1450.6,barW:528,barH:25.4,rowGap:5,gridW:2,labelX:2737,labelFirst:1500,labelLast:3057,fs:27,ls:1.5,labels:fLabels,groups:fGroups,values:fValues,colTree:fColTree,rowTree:fRowTree,clusterWeight:'bold',
  tags:[['a',2230,1421,36],['b1',2384,1421,36],['b2',2570,1418,36]],
  clusters:[['A1',2126,1594,30],['A2',2141,1821,30],['B1',2150,2073,30],['B2',2137,2750,30]]});

/* ---------- Colour bar and group legend ---------- */
(function () {
  const g = document.getElementById('legend');
  const defs = make('defs',{},g);
  const grad = make('linearGradient',{id:'zscale',x1:0,x2:1,y1:0,y2:0},defs);
  [[0,'#5a0010'],[0.1,'#b00018'],[0.27,'#ff7050'],[0.44,'#ffdcc8'],[0.57,'#c8e3ee'],[0.74,'#1aa0d0'],[0.85,'#0070b0'],[1,'#001a60']].forEach(s => {
    make('stop',{offset:s[0],'stop-color':s[1]},grad);
  });
  const bar = make('rect',{x:365,y:2908,width:428,height:30,fill:'url(#zscale)'},g);
  
  
  const tickX = v => v >= 0 ? 577 - v * 101.5 : 577 - v * 97.5 ;
  colorbarTicks.forEach(t => {
    const el = make('text',{x:tickX(t),y:2889,'text-anchor':'middle','font-size':36,'font-weight':'bold',fill:'#111'},g);
    el.textContent = fmt(t);
    
    
  });
  const slotX = {C:320,CP:441,T:587,TP:709};
  const textX = {C:371,CP:492,T:642,TP:761};
  legendGroups.forEach(name => {
    const sw = make('rect',{x:slotX[name],y:2994,width:49,height:48,fill:groupColors[name]},g);
    
    
    const t = make('text',{x:textX[name],y:3033,'font-size':44,'font-weight':'bold',fill:'#111'},g);
    t.textContent = name;
    
    
  });
})();
</script>
</body>
</html>
